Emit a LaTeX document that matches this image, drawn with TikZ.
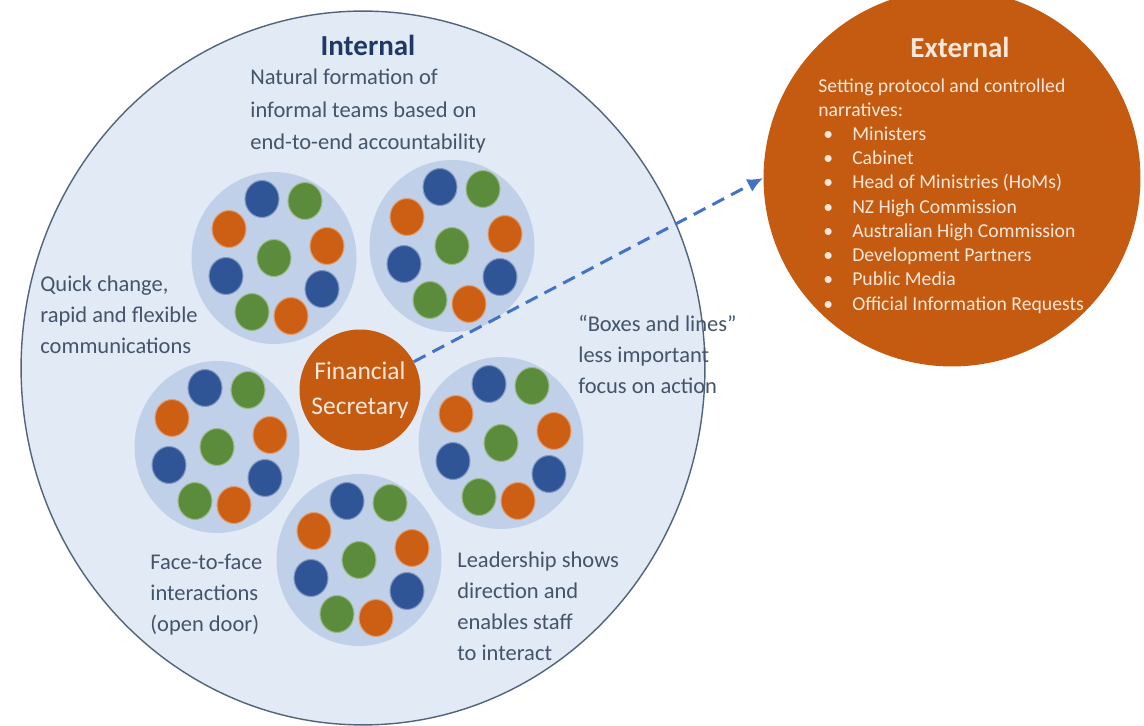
\documentclass[tikz,border=0pt]{standalone}
\usepackage{fontspec}
\setmainfont{Carlito}
\usetikzlibrary{shapes,arrows.meta,positioning,calc}

\definecolor{intfill}{HTML}{E1EAF5}
\definecolor{intline}{HTML}{52637C}
\definecolor{teamfill}{HTML}{BFD0E8}
\definecolor{dotblue}{HTML}{2F5597}
\definecolor{dotgreen}{HTML}{5A8C3C}
\definecolor{dotorange}{HTML}{CC5F14}
\definecolor{fsorange}{HTML}{C55A11}
\definecolor{textgrey}{HTML}{44546A}
\definecolor{titleblue}{HTML}{1F3864}
\definecolor{arrowblue}{HTML}{4472C4}
\definecolor{cream}{HTML}{FBE8DA}

\begin{document}
\begin{tikzpicture}
[x=0.02cm,y=-0.02cm,
intcircle/.style={shape=ellipse,fill=intfill,draw=intline,line width=0.8pt,minimum width=13.68cm,minimum height=14.28cm,inner sep=0pt},
extcircle/.style={shape=circle,fill=fsorange,minimum size=7.54cm,inner sep=0pt},
team/.style={shape=ellipse,fill=teamfill,minimum width=3.3cm,minimum height=3.44cm,inner sep=0pt},
fsnode/.style={shape=circle,fill=fsorange,minimum size=2.42cm,inner sep=0pt,text=cream,align=center,font=\fontsize{14.5}{20}\selectfont},
title/.style={font=\bfseries\fontsize{16.5}{20}\selectfont},
note/.style={anchor=north west,inner sep=0pt,align=left,text=textgrey,font=\fontsize{12.8}{17.6}\selectfont},
extnote/.style={anchor=north west,inner sep=0pt,align=left,text=cream,font=\fontsize{11.2}{13.8}\selectfont},
flow/.style={arrowblue,line width=1.7pt,dash pattern=on 7.5pt off 4.5pt,-{Latex[length=9pt,width=8pt]}}]

\useasboundingbox (0,0) rectangle (1144,726);

% internal and external circles
\node (int) [intcircle] at (363,368) {};
\node (ext) [extcircle] at (952,178) {};

% the five teams
\foreach \tx/\ty [count=\i] in {274/258,452/246,217/447,501/443,359/560} {
  \node (t\i) [team] at (\tx,\ty) {};
  \foreach \dx/\dy/\c in {-12/-59/dotblue,31/-57/dotgreen,-45/-29/dotorange,53/-12/dotorange,
                          0/0/dotgreen,-48/18/dotblue,48/31/dotblue,-22/54/dotgreen,17/58/dotorange}
    \fill[\c,draw=\c!60!white,line width=0.6pt] ($(t\i)+(\dx,\dy)$) ellipse[x radius=0.34cm,y radius=0.37cm];
}

\node (fs) [fsnode] at (360,390) {Financial\\Secretary};

% texts
\node (ttlint) [title,text=titleblue] at (368,45) {Internal};
\node (tnat) [note,font=\fontsize{12.8}{18.5}\selectfont] at (250,69) {Natural formation of\\informal teams based on\\end-to-end accountability};
\node (tquick) [note] at (40,276) {Quick change,\\rapid and flexible\\communications};
\node (tboxes) [note] at (578,315) {“Boxes and lines”\\less important\\focus on action};
\node (tface) [note] at (150,554) {Face-to-face\\interactions\\(open door)};
\node (tlead) [note] at (457,552) {Leadership shows\\direction and\\enables staff\\to interact};

\node (ttlext) [title,text=cream] at (960,47) {External};
\node (tlist) [extnote] at (818,78) {Setting protocol and controlled\\narratives:\\
\hspace*{2.8pt}\makebox[16.5pt][l]{\textbullet}Ministers\\
\hspace*{2.8pt}\makebox[16.5pt][l]{\textbullet}Cabinet\\
\hspace*{2.8pt}\makebox[16.5pt][l]{\textbullet}Head of Ministries (HoMs)\\
\hspace*{2.8pt}\makebox[16.5pt][l]{\textbullet}NZ High Commission\\
\hspace*{2.8pt}\makebox[16.5pt][l]{\textbullet}Australian High Commission\\
\hspace*{2.8pt}\makebox[16.5pt][l]{\textbullet}Development Partners\\
\hspace*{2.8pt}\makebox[16.5pt][l]{\textbullet}Public Media\\
\hspace*{2.8pt}\makebox[16.5pt][l]{\textbullet}Official Information Requests};

\draw[flow] (fs) -- (ext.west);

\end{tikzpicture}
\end{document}
